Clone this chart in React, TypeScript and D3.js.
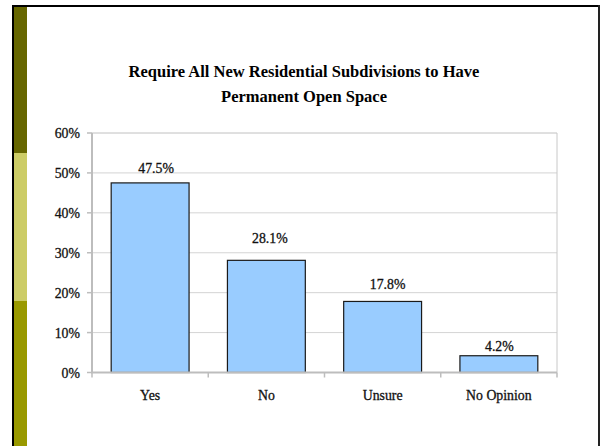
import React from "react";
import * as d3 from "d3";

const categories = ["Yes", "No", "Unsure", "No Opinion"];
const values = [47.5, 28.1, 17.8, 4.2];
const valueLabels = ["47.5%", "28.1%", "17.8%", "4.2%"];
const yTicks = [0, 10, 20, 30, 40, 50, 60];
const titleLines = ["Require All New Residential Subdivisions to Have", "Permanent Open Space"];

// layout constants
const W = 602;
const H = 446;
const plot = { left: 92, right: 557, top: 133, bottom: 372.5 };
const labelDy = [15, 22.5, 17.3, 10];
const labelDx = [6, 3.5, 5, 0.5];
const FONT = "'Liberation Serif', 'Times New Roman', serif";
const FS = 13.8;

export default function App() {
  const x = d3
    .scaleBand<string>()
    .domain(categories)
    .range([plot.left, plot.right])
    .paddingInner(0.33)
    .paddingOuter(0.165);
  const xOuter = d3.scaleBand<string>().domain(categories).range([plot.left, plot.right]);
  const y = d3.scaleLinear().domain([0, 60]).range([plot.bottom, plot.top]);
  const boundaries = [...categories.map((c) => xOuter(c) as number), plot.right];
  const textStyle = { fill: "#111", stroke: "#111", strokeWidth: 0.3 };

  return (
    <svg
      width={W}
      height={H}
      style={{ position: "absolute", left: 0, top: 0, background: "#fff" }}
      fontFamily={FONT}
    >
      {/* frame */}
      <rect x={0} y={0} width={W} height={H} fill="#fff" />
      <rect x={14} y={7} width={13} height={146} fill="#666600" />
      <rect x={14} y={153} width={13} height={148} fill="#CCCC66" />
      <rect x={14} y={301} width={13} height={150} fill="#999900" />
      <line x1={12} x2={600} y1={6} y2={6} stroke="#000" strokeWidth={2} />
      <line x1={13} x2={13} y1={5} y2={H} stroke="#000" strokeWidth={2} />
      <line x1={599} x2={599} y1={5} y2={H} stroke="#222" strokeWidth={2} />

      {/* title */}
      {titleLines.map((t, i) => (
        <text
          key={t}
          x={304}
          y={77 + i * 25}
          textAnchor="middle"
          fontWeight="bold"
          fontSize={16.5}
          fill="#000"
        >
          {t}
        </text>
      ))}

      {/* gridlines */}
      {yTicks.map((t) => (
        <line
          key={"g" + t}
          x1={plot.left}
          x2={plot.right}
          y1={y(t)}
          y2={y(t)}
          stroke={t === 60 ? "#c0c0c0" : "#d4d4d4"}
          strokeWidth={1}
        />
      ))}
      <line x1={plot.right} x2={plot.right} y1={plot.top} y2={plot.bottom} stroke="#c8c8c8" />

      {/* bars */}
      {categories.map((c, i) => (
        <rect
          key={c}
          x={x(c)}
          y={y(values[i])}
          width={x.bandwidth()}
          height={y(0) - y(values[i])}
          fill="#99CCFF"
          stroke="#1a1a1a"
          strokeWidth={1.2}
        />
      ))}

      {/* axes */}
      <line x1={plot.left} x2={plot.left} y1={plot.top} y2={plot.bottom} stroke="#bdbdbd" strokeWidth={2} />
      <line x1={plot.left - 1} x2={plot.right} y1={plot.bottom} y2={plot.bottom} stroke="#bdbdbd" strokeWidth={2} />
      {yTicks.map((t) => (
        <g key={"yt" + t}>
          <line x1={plot.left - 5} x2={plot.left} y1={y(t)} y2={y(t)} stroke="#bdbdbd" strokeWidth={1.5} />
          <text x={80} y={y(t) + 5} textAnchor="end" fontSize={FS} {...textStyle}>
            {t + "%"}
          </text>
        </g>
      ))}
      {boundaries.map((b, i) => (
        <line key={"xt" + i} x1={b} x2={b} y1={plot.bottom} y2={plot.bottom + 5} stroke="#bdbdbd" strokeWidth={1.5} />
      ))}
      {categories.map((c) => (
        <text
          key={"xl" + c}
          x={(xOuter(c) as number) + xOuter.bandwidth() / 2}
          y={399.5}
          textAnchor="middle"
          fontSize={FS}
          {...textStyle}
        >
          {c}
        </text>
      ))}

      {/* value labels */}
      {categories.map((c, i) => (
        <text
          key={"vl" + c}
          x={(x(c) as number) + x.bandwidth() / 2 + labelDx[i]}
          y={y(values[i]) - labelDy[i] + 4.8}
          textAnchor="middle"
          fontSize={FS}
          {...textStyle}
        >
          {valueLabels[i]}
        </text>
      ))}
    </svg>
  );
}
